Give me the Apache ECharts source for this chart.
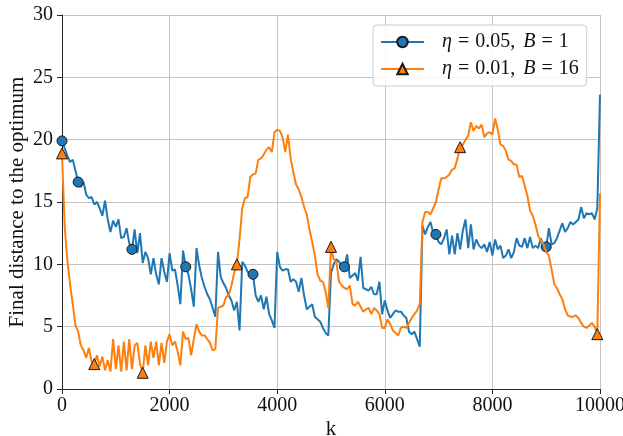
<!DOCTYPE html>
<html>
<head>
<meta charset="utf-8">
<script src="https://cdn.jsdelivr.net/npm/echarts@6/dist/echarts.min.js"></script>
<style>
  html, body { margin: 0; padding: 0; background: #ffffff; }
  #chart { width: 623px; height: 436px; }
</style>
</head>
<body>
<div id="chart"></div>
<script>
// Iteration step between recorded checkpoints
const kStep = 50;

// Final distance to the optimum, eta = 0.05, B = 1 (one value every kStep iterations)
const distEta005 = [
  19.9, 19.3, 18.7, 18.2, 18.4, 17.5, 16.6, 16.2, 16.6, 15.6,
  15.3, 15.4, 14.8, 15.0, 14.5, 13.9, 15.1, 13.6, 12.6, 13.5,
  13.0, 13.6, 12.1, 12.2, 12.9, 11.7, 11.2, 12.8, 10.9, 12.5,
  10.1, 11.0, 10.5, 9.2, 10.5, 9.2, 8.4, 10.5, 9.4, 8.6,
  10.9, 9.5, 9.6, 8.3, 6.8, 11.1, 9.8, 9.2, 8.0, 6.6,
  11.3, 9.9, 8.9, 8.2, 7.6, 7.2, 6.5, 5.8, 11.0, 9.0,
  8.5, 8.1, 7.5, 7.1, 6.3, 7.0, 4.7, 10.2, 9.9, 9.4,
  9.3, 9.2, 7.5, 7.0, 7.5, 6.4, 7.4, 6.0, 5.5, 4.9,
  11.0, 9.8, 9.5, 9.6, 9.6, 8.6, 8.8, 8.6, 7.8, 8.9,
  7.5, 6.4, 6.6, 6.8, 5.8, 5.6, 5.4, 4.9, 4.5, 4.3,
  9.3, 10.0, 10.4, 10.2, 9.9, 9.8, 10.8, 8.9, 9.1, 9.3,
  8.7, 10.6, 8.1, 8.0, 7.9, 8.2, 7.6, 7.6, 8.6, 6.0,
  7.1, 6.3, 5.7, 6.0, 6.3, 6.2, 6.2, 5.9, 5.7, 4.6,
  4.4, 4.6, 4.0, 3.4, 13.1, 12.4, 13.0, 13.4, 12.5, 12.4,
  11.8, 11.6, 12.1, 12.8, 10.8, 12.3, 10.8, 12.5, 11.2, 12.7,
  13.6, 11.3, 13.2, 11.2, 12.0, 11.5, 11.3, 11.6, 11.0, 11.8,
  10.7, 12.0, 11.2, 11.5, 10.5, 10.7, 11.2, 10.5, 11.0, 12.1,
  11.5, 11.4, 12.1, 11.3, 12.2, 11.3, 11.5, 11.3, 12.1, 11.3,
  11.4, 12.9, 11.6, 11.7, 12.1, 12.7, 13.3, 12.6, 12.9, 13.4,
  13.2, 13.4, 13.6, 14.6, 13.7, 14.1, 14.0, 14.1, 13.6, 14.5,
  23.6
];

// Final distance to the optimum, eta = 0.01, B = 16
const distEta001 = [
  18.9, 13.0, 10.3, 8.4, 6.8, 5.1, 4.6, 3.5, 3.1, 2.5,
  3.3, 2.2, 2.0, 2.7, 1.8, 2.6, 1.5, 2.3, 1.4, 4.0,
  1.6, 3.5, 1.4, 3.8, 1.5, 4.0, 1.6, 3.5, 3.7, 2.0,
  1.3, 3.5, 1.9, 3.8, 2.5, 3.8, 1.9, 3.7, 2.1, 3.8,
  4.4, 3.5, 3.8, 3.0, 1.9, 4.6, 4.0, 4.1, 2.7, 4.0,
  5.2, 4.6, 4.3, 4.3, 4.0, 3.7, 3.1, 3.2, 6.5, 6.6,
  6.7, 7.4, 7.5, 8.3, 9.3, 10.0, 12.0, 14.5, 15.3, 15.4,
  17.0, 17.2, 17.3, 18.4, 18.5, 18.8, 19.2, 19.4, 19.0, 20.6,
  20.8, 20.7, 20.2, 19.0, 20.4, 18.5, 17.4, 16.4, 16.0, 15.4,
  14.6, 14.0, 12.8, 11.8, 10.7, 9.2, 8.7, 8.6, 7.8, 6.5,
  11.4, 10.4, 10.2, 8.6, 8.3, 8.1, 8.0, 8.3, 6.8, 6.7,
  7.0, 6.6, 6.2, 6.4, 6.5, 6.0, 6.5, 6.3, 6.0, 4.9,
  4.9, 5.6, 5.2, 4.7, 4.5, 4.3, 4.9, 5.0, 4.9, 5.3,
  5.7, 6.0, 6.3, 6.8, 13.4, 14.2, 14.2, 14.0, 14.5, 15.0,
  16.0, 16.9, 16.9, 17.0, 17.2, 17.6, 17.7, 18.5, 19.4, 19.6,
  20.0, 20.3, 21.4, 20.7, 21.1, 20.9, 21.2, 20.2, 20.5, 20.6,
  20.4, 21.7, 20.8, 19.6, 19.5, 19.1, 18.4, 18.3, 18.0, 18.0,
  17.0, 17.1, 16.3, 15.5, 14.3, 13.9, 13.2, 12.3, 11.9, 11.6,
  11.0, 10.7, 9.6, 8.4, 8.1, 7.6, 7.2, 6.4, 5.9, 5.8,
  5.8, 5.9, 5.7, 5.3, 5.0, 4.9, 5.1, 5.3, 5.0, 4.4,
  15.7
];

// Checkpoints that carry a marker on each curve (indices into the arrays above)
const markerIdxEta005 = [0, 6, 26, 46, 71, 105, 139, 180];
const markerIdxEta001 = [0, 12, 30, 65, 100, 148, 199];

// Run settings shown in the legend
const etaValues = ['0.05', '0.01'];
const batchValues = ['1', '16'];

// Axis ticks
const xTicks = [0, 2000, 4000, 6000, 8000, 10000];
const yTicks = [0, 5, 10, 15, 20, 25, 30];

const FONT = '"Liberation Serif", "DejaVu Serif", serif';
const INK = '#111111';
const colors = ['#1f77b4', '#ff7f0e'];
const symbols = ['circle', 'triangle'];
const symbolSizes = [10, 11];
const seriesValues = [distEta005, distEta001];
const markerIdx = [markerIdxEta005, markerIdxEta001];

const seriesNames = etaValues.map((eta, i) => 'η = ' + eta + ', B = ' + batchValues[i]);
const legendLabels = {};
etaValues.forEach((eta, i) => {
  legendLabels[seriesNames[i]] =
    '{i|η}{op|=}' + eta + ', {i|B}{op|=}' + batchValues[i];
});

function buildData(values, marks) {
  const markSet = new Set(marks);
  return values.map((v, i) => {
    const item = { value: [i * kStep, v] };
    if (!markSet.has(i)) item.symbol = 'none';
    return item;
  });
}

const chart = echarts.init(document.getElementById('chart'), null, { renderer: 'canvas' });

const series = seriesValues.map((vals, s) => ({
  name: seriesNames[s],
  type: 'line',
  data: buildData(vals, markerIdx[s]),
  symbol: symbols[s],
  symbolSize: symbolSizes[s],
  showAllSymbol: true,
  lineStyle: { color: colors[s], width: 2 },
  itemStyle: { color: colors[s], borderColor: '#1a1a1a', borderWidth: 1, opacity: 1 },
  emphasis: { disabled: true },
  animation: false,
  z: 2 + s
}));

chart.setOption({
  backgroundColor: '#ffffff',
  animation: false,
  grid: {
    left: 62, right: 23, top: 15, bottom: 47,
    containLabel: false,
    outerBoundsMode: 'none'
  },
  legend: {
    orient: 'vertical',
    left: 373,
    top: 25,
    data: seriesNames,
    itemWidth: 43,
    itemHeight: 13,
    itemGap: 7,
    padding: [7, 8, 7, 7],
    backgroundColor: 'rgba(255,255,255,0.85)',
    borderColor: '#cccccc',
    borderWidth: 1,
    borderRadius: 4,
    formatter: name => legendLabels[name],
    textStyle: {
      fontFamily: FONT,
      fontSize: 20,
      color: INK,
      lineHeight: 20,
      padding: [0, 0, 0, 10],
      rich: {
        i: { fontFamily: FONT, fontSize: 20, fontStyle: 'italic', color: INK, padding: [0, 0, 0, 3] },
        op: { fontFamily: FONT, fontSize: 20, color: INK, padding: [0, 6, 0, 6] }
      }
    }
  },
  xAxis: {
    type: 'value',
    min: xTicks[0],
    max: xTicks[xTicks.length - 1],
    interval: xTicks[1] - xTicks[0],
    name: 'k',
    nameLocation: 'middle',
    nameGap: 30,
    nameMoveOverlap: false,
    nameTextStyle: { fontFamily: FONT, fontSize: 21, color: INK },
    axisLine: { show: true, lineStyle: { color: '#262626', width: 1 } },
    axisTick: { show: true, length: 5, lineStyle: { color: '#262626', width: 1 } },
    axisLabel: {
      fontFamily: FONT, fontSize: 20, color: INK, margin: 7,
      formatter: v => String(v)
    },
    splitLine: { show: true, lineStyle: { color: '#c4c4c4', width: 1 } }
  },
  yAxis: {
    type: 'value',
    min: yTicks[0],
    max: yTicks[yTicks.length - 1],
    interval: yTicks[1] - yTicks[0],
    name: 'Final distance to the optimum',
    nameLocation: 'middle',
    nameGap: 34,
    nameMoveOverlap: false,
    nameTextStyle: { fontFamily: FONT, fontSize: 21, color: INK },
    axisLine: { show: true, lineStyle: { color: '#262626', width: 1 } },
    axisTick: { show: true, length: 5, lineStyle: { color: '#262626', width: 1 } },
    axisLabel: {
      fontFamily: FONT, fontSize: 20, color: INK, margin: 9,
      formatter: v => String(v)
    },
    splitLine: { show: true, lineStyle: { color: '#c4c4c4', width: 1 } }
  },
  series: series
});
</script>
</body>
</html>
